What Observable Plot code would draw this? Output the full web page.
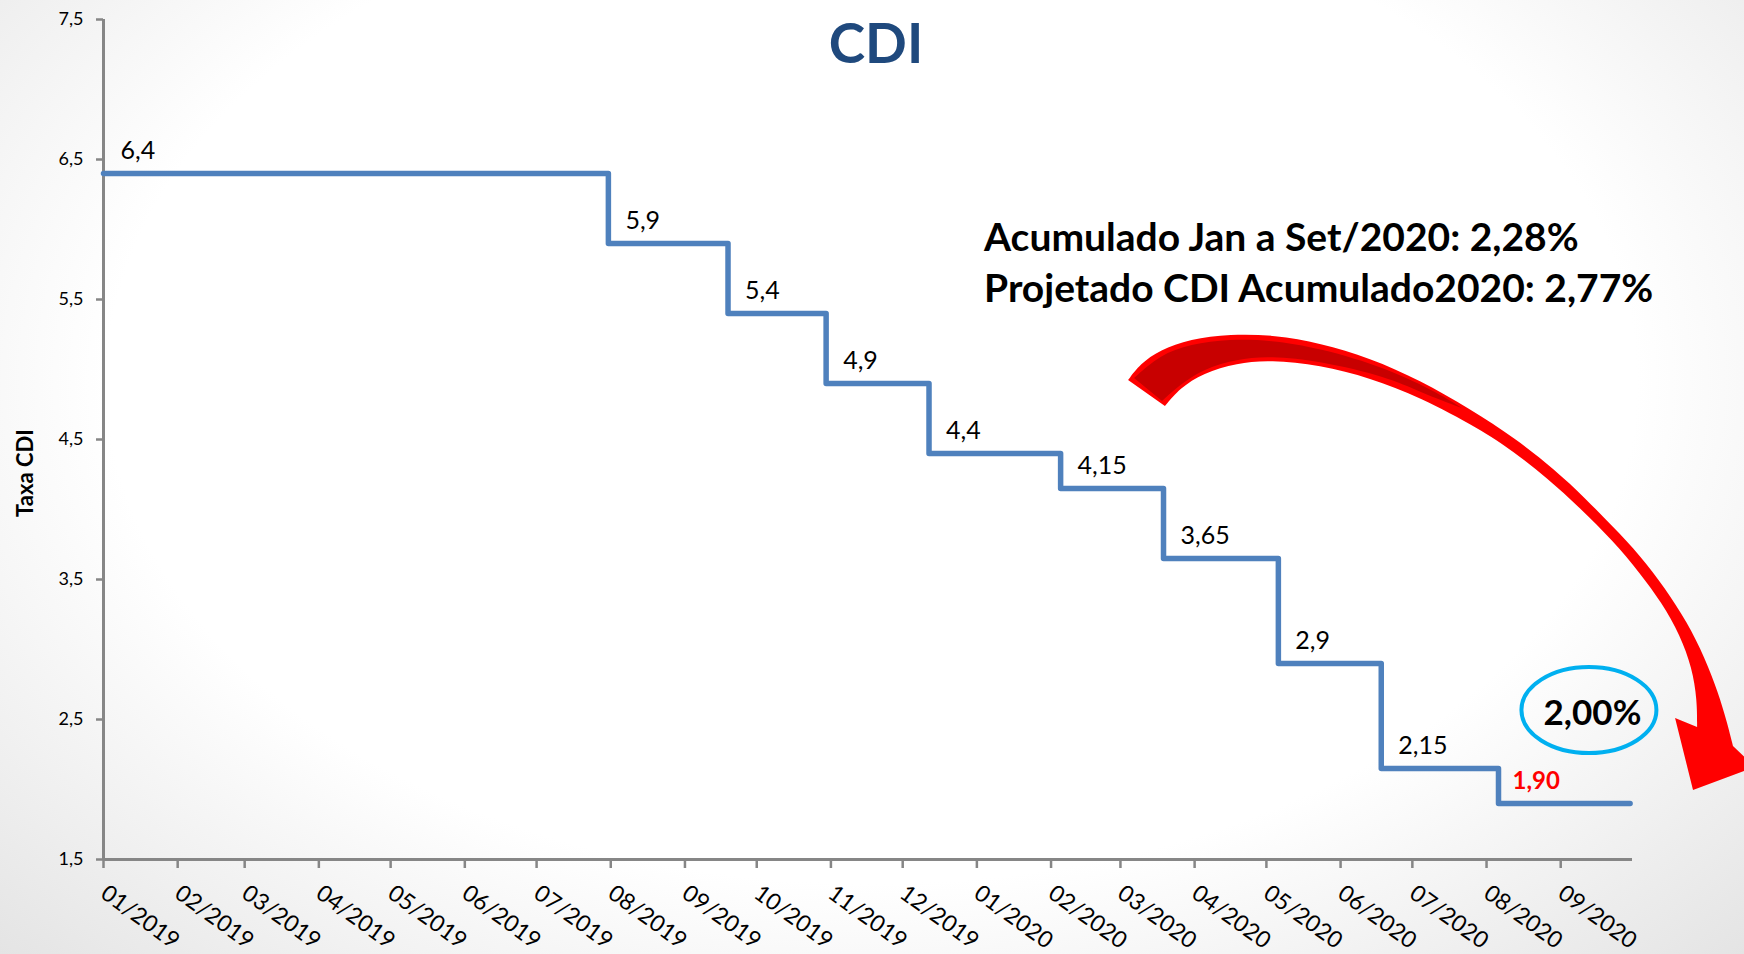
<!DOCTYPE html>
<html>
<head>
<meta charset="utf-8">
<script src="https://cdn.jsdelivr.net/npm/d3@7"></script>
<script src="https://cdn.jsdelivr.net/npm/@observablehq/plot@0.6"></script>
<style>
  html, body { margin: 0; padding: 0; }
  body {
    width: 1744px; height: 954px; overflow: hidden;
    background: radial-gradient(ellipse at 50% 40%, #ffffff 62%, #e4e4e4 100%);
    font-family: Lato, sans-serif;
  }
</style>
</head>
<body>
<div id="chart"></div>
<script>
// ---------- data ----------
const title = "CDI";
const yLabel = "Taxa CDI";
const stepDates = ["2019-01-01", "2019-07-31", "2019-09-19", "2019-10-30", "2019-12-12",
                   "2020-02-05", "2020-03-19", "2020-05-06", "2020-06-18", "2020-08-06"];
const cdiRates  = [6.40, 5.90, 5.40, 4.90, 4.40, 4.15, 3.65, 2.90, 2.15, 1.90];
const rateLabels = ["6,4", "5,9", "5,4", "4,9", "4,4", "4,15", "3,65", "2,9", "2,15", "1,90"];
const seriesEnd = "2020-09-30";
const xDomain = ["2019-01-01", "2020-10-01"];
const xTickMonths = ["2019-01-01", "2019-02-01", "2019-03-01", "2019-04-01", "2019-05-01", "2019-06-01",
                     "2019-07-01", "2019-08-01", "2019-09-01", "2019-10-01", "2019-11-01", "2019-12-01",
                     "2020-01-01", "2020-02-01", "2020-03-01", "2020-04-01", "2020-05-01", "2020-06-01",
                     "2020-07-01", "2020-08-01", "2020-09-01"];
const yTicks = [1.5, 2.5, 3.5, 4.5, 5.5, 6.5, 7.5];
const notes = ["Acumulado Jan a Set/2020: 2,28%", "Projetado CDI Acumulado2020: 2,77%"];
const badgeText = "2,00%";

// annotation anchors (date, value)
const notesAnchor = {date: "2020-01-04", value: 5.78};
const badgeAnchor = {date: "2020-09-13", value: 2.564};
const yLabelAnchor = {date: "2019-01-01", value: 4.26};

// curved arrow outline, as [days since 2019-01-01, rate value]
const arrowOuter = [[428.4,4.921],[433.4,5.036],[441.7,5.136],[454.3,5.214],[471.0,5.250],[489.8,5.243],
  [508.6,5.186],[529.5,5.079],[550.4,4.921],[571.3,4.714],[590.1,4.507],[606.8,4.279],[619.4,4.079],
  [631.1,3.871],[642.3,3.671],[652.8,3.436],[662.0,3.193],[669.5,2.936],[674.9,2.693],[678.7,2.479],[681.2,2.307]];
const arrowHead = [[681.2,2.307],[690.4,2.157],[664.5,1.993],[657.0,2.507],[666.2,2.443]];
const arrowInner = [[666.2,2.443],[666.2,2.636],[664.1,2.864],[659.1,3.100],[651.5,3.329],[642.3,3.543],
  [631.1,3.771],[617.3,4.007],[603.5,4.221],[589.3,4.414],[575.5,4.571],[550.4,4.800],[529.5,4.936],
  [508.6,5.029],[487.7,5.064],[473.9,5.043],[459.7,4.971],[450.1,4.864],[443.8,4.736]];
const shadeTop = [[430.9,4.936],[441.7,5.100],[454.3,5.179],[471.0,5.214],[487.7,5.207],[508.6,5.150],
  [536.6,5.007],[558.8,4.821],[567.9,4.721]];
const shadeBottom = [[567.9,4.721],[550.4,4.836],[536.6,4.943],[508.6,5.057],[487.7,5.093],[473.9,5.071],
  [459.7,5.000],[449.3,4.879],[442.6,4.771]];

// ---------- build ----------
const parse = d3.utcParse("%Y-%m-%d");
const t0 = parse("2019-01-01").getTime();
const steps = stepDates.map((d, i) => ({date: parse(d), rate: cdiRates[i], label: rateLabels[i]}));
const lineData = [...steps, {date: parse(seriesEnd), rate: cdiRates[cdiRates.length - 1]}];
const lastIdx = steps.length - 1;
const fmtY = d => d.toFixed(1).replace(".", ",");

function decorations(index, scales) {
  const {x, y} = scales;
  const P = ([d, v]) => [x(new Date(t0 + d * 864e5)), y(v)];
  const smooth = d3.line().curve(d3.curveBasis);
  const straight = d3.line();
  const join = parts => parts.map((p, i) => i ? p.replace(/^M/, "L") : p).join("") + "Z";
  const g = d3.create("svg:g");
  g.append("path")
    .attr("fill", "#FF0000")
    .attr("d", join([smooth(arrowOuter.map(P)), straight(arrowHead.map(P)), smooth(arrowInner.map(P))]));
  g.append("path")
    .attr("fill", "#C80000")
    .attr("d", join([smooth(shadeTop.map(P)), smooth(shadeBottom.map(P))]));
  const cx = x(parse(badgeAnchor.date)), cy = y(badgeAnchor.value);
  g.append("ellipse")
    .attr("cx", cx).attr("cy", cy).attr("rx", 67.5).attr("ry", 43)
    .attr("fill", "none").attr("stroke", "#00B0F0").attr("stroke-width", 4);
  return g.node();
}

const chart = Plot.plot({
  width: 1744,
  height: 954,
  marginLeft: 103,
  marginRight: 112,
  marginTop: 19,
  marginBottom: 95,
  style: {fontFamily: "Lato, sans-serif", background: "transparent", color: "#000"},
  x: {type: "utc", domain: xDomain.map(parse), axis: null},
  y: {domain: [1.5, 7.5], axis: null},
  marks: [
    decorations,
    Plot.ruleY([1.5], {stroke: "#868686", strokeWidth: 3}),
    Plot.ruleX([parse(xDomain[0])], {stroke: "#868686", strokeWidth: 3}),
    Plot.axisY(yTicks, {
      tickSize: 7, tickPadding: 13, fontSize: 18, stroke: "#868686", strokeWidth: 2.5,
      fill: "#000", tickFormat: fmtY, label: null
    }),
    Plot.axisX(xTickMonths.map(parse), {
      tickSize: 9, tickPadding: 22, fontSize: 23, stroke: "#868686", strokeWidth: 2.5,
      fill: "#000", tickRotate: 36, tickFormat: d3.utcFormat("%m/%Y"), label: null
    }),
    Plot.line(lineData, {
      x: "date", y: "rate", curve: "step-after",
      stroke: "#4F81BD", strokeWidth: 5.5, strokeLinejoin: "round", strokeLinecap: "round"
    }),
    Plot.text(steps.filter((d, i) => i !== lastIdx), {
      x: "date", y: "rate", text: "label", dx: 17, dy: -23,
      textAnchor: "start", lineAnchor: "middle", fontSize: 25, fill: "#000"
    }),
    Plot.text(steps.filter((d, i) => i === lastIdx), {
      x: "date", y: "rate", text: "label", dx: 14, dy: -22,
      textAnchor: "start", lineAnchor: "middle", fontSize: 24, fontWeight: "bold", fill: "#FF0000"
    }),
    Plot.text([title], {
      frameAnchor: "top", dx: 8, dy: 26, lineAnchor: "middle",
      fontSize: 55, fontWeight: "bold", fill: "#1F497D"
    }),
    Plot.text([{date: parse(yLabelAnchor.date), value: yLabelAnchor.value, text: yLabel}], {
      x: "date", y: "value", text: "text", dx: -78, rotate: -90, lineAnchor: "middle",
      fontSize: 22, fontWeight: "bold", fill: "#000"
    }),
    Plot.text([{date: parse(notesAnchor.date), value: notesAnchor.value, text: notes.join("\n")}], {
      x: "date", y: "value", text: "text", textAnchor: "start", lineAnchor: "middle",
      lineHeight: 1.3, fontSize: 39, fontWeight: "bold", fill: "#000"
    }),
    Plot.text([{date: parse(badgeAnchor.date), value: badgeAnchor.value, text: badgeText}], {
      x: "date", y: "value", text: "text", dx: 3, dy: 3, lineAnchor: "middle",
      fontSize: 35, fontWeight: "bold", fill: "#000"
    })
  ]
});
document.getElementById("chart").appendChild(chart);
</script>
</body>
</html>
